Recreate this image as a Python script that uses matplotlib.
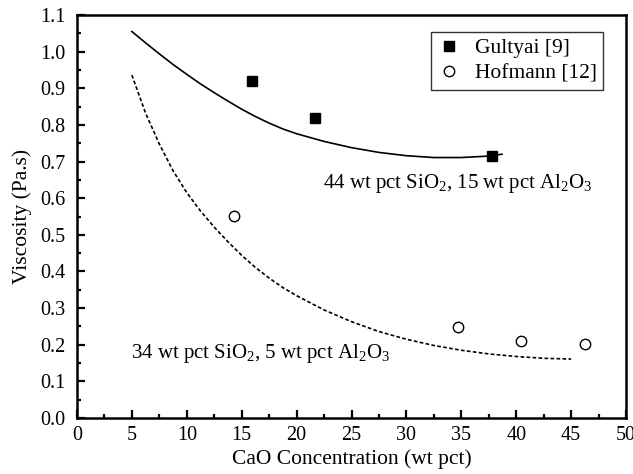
import matplotlib
matplotlib.use("Agg")
import matplotlib.pyplot as plt
from matplotlib.ticker import MultipleLocator, FormatStrFormatter

plt.rcParams['font.family'] = ['Liberation Serif', 'DejaVu Serif']
plt.rcParams['mathtext.fontset'] = 'custom'
plt.rcParams['mathtext.rm'] = 'Liberation Serif'
plt.rcParams['mathtext.default'] = 'regular'

# Data
gultyai_x = [15.9, 21.7, 37.8]
gultyai_y = [0.92, 0.82, 0.715]
hofmann_x = [14.3, 34.7, 40.4, 46.3]
hofmann_y = [0.551, 0.249, 0.21, 0.201]

fit44_x = [5, 6.25, 7.5, 8.75, 10, 11.25, 12.5, 13.75, 15, 16.25, 17.5, 18.75, 20,
           22.5, 25, 27.5, 30, 32.5, 35, 37.5, 38.7]
fit44_y = [1.055, 1.024, 0.994, 0.965, 0.938, 0.912, 0.888, 0.865, 0.843, 0.823,
           0.805, 0.789, 0.776, 0.755, 0.738, 0.725, 0.716, 0.711, 0.711, 0.715, 0.72]
fit34_x = [5, 6.25, 7.5, 8.75, 10, 11.25, 12.5, 13.75, 15, 16.25, 17.5, 18.75, 20,
           22.5, 25, 27.5, 30, 32.5, 35, 37.5, 40, 42.5, 45]
fit34_y = [0.936, 0.832, 0.748, 0.675, 0.615, 0.565, 0.521, 0.481, 0.444, 0.411,
           0.382, 0.356, 0.334, 0.295, 0.263, 0.236, 0.215, 0.198, 0.185, 0.175,
           0.168, 0.163, 0.161]

fig = plt.figure(figsize=(6.33, 4.74), dpi=100)
ax = fig.add_axes([0.1216, 0.1181, 0.8674, 0.8502])

ax.plot(fit44_x, fit44_y, color='black', lw=1.2)
ax.plot(fit34_x, fit34_y, color='black', lw=1.2, ls=(0, (2.2, 1.4)))
ax.plot(gultyai_x, gultyai_y, 's', color='black', ms=7, label='Gultyai [9]')
ax.plot(hofmann_x, hofmann_y, 'o', mfc='white', mec='black', mew=1.0, ms=7.5,
        label='Hofmann [12]')

ax.text(22.4, 0.64, '44 wt pct SiO$_2$, 15 wt pct Al$_2$O$_3$', fontsize=15,
        va='center', ha='left')
ax.text(4.9, 0.175, '34 wt pct SiO$_2$, 5 wt pct Al$_2$O$_3$', fontsize=15,
        va='center', ha='left')

ax.set_xlim(0, 50)
ax.set_ylim(0, 1.1)
ax.xaxis.set_major_locator(MultipleLocator(5))
ax.xaxis.set_minor_locator(MultipleLocator(2.5))
ax.yaxis.set_major_locator(MultipleLocator(0.1))
ax.yaxis.set_minor_locator(MultipleLocator(0.05))
ax.yaxis.set_major_formatter(FormatStrFormatter('%.1f'))
ax.tick_params(which='both', direction='in', top=False, right=False, labelsize=14.5, width=1.6)
ax.tick_params(axis='y', which='major', pad=8)
ax.tick_params(axis='x', which='major', pad=6)
ax.tick_params(which='major', length=6)
ax.tick_params(which='minor', length=3)
for s in ax.spines.values():
    s.set_linewidth(1.8)

ax.set_xlabel('CaO Concentration (wt pct)', fontsize=15.5, labelpad=3)
ax.set_ylabel('Viscosity (Pa.s)', fontsize=15.5, labelpad=6)

leg = ax.legend(loc='upper right', bbox_to_anchor=(0.958, 0.958), fontsize=15.5,
                frameon=True, fancybox=False, edgecolor='black', handletextpad=0.7,
                borderpad=0.3, labelspacing=0.25, handlelength=1.0, borderaxespad=0)
leg.get_frame().set_linewidth(1.0)

fig.savefig('out.png', dpi=100)
